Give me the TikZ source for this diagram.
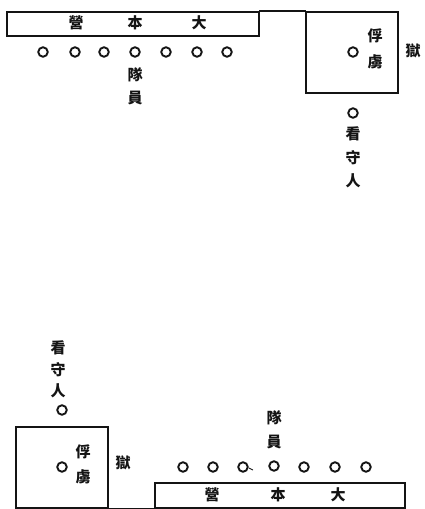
\documentclass[tikz,border=0pt]{standalone}
\usepackage{fontspec}
\usepackage{xcolor}
\usepackage{tikz}
\newfontfamily\cjk{Noto Sans CJK TC}
\definecolor{figline}{RGB}{20,20,20}
\tikzset{
  wall/.style ={draw=figline, line width=1.8pt, line cap=rect},
  man/.style  ={draw=figline, line width=1.9pt, circle, minimum size=9.5pt, inner sep=0pt},
  lab/.style  ={font=\cjk\bfseries\fontsize{15}{15}\selectfont, text=figline, inner sep=0pt},
}
\begin{document}
\begin{tikzpicture}[x=1pt,y=-1pt]
  \useasboundingbox (0,0) rectangle (425,509);
  % upper plan
  \node[wall,minimum width=252pt,minimum height=24pt,inner sep=0pt] (hqa) at (133,24) {};
  \node[wall,minimum width=92pt,minimum height=81pt,inner sep=0pt] (jaila) at (352,52.5) {};
  \draw[wall] (hqa.north east) -- (jaila.north west);
  \node[lab] (hqa1) at (76,23) {營};
  \node[lab] (hqa2) at (135,23) {本};
  \node[lab] (hqa3) at (199,23) {大};
  \node[man] (ma1) at (43,52) {};
  \node[man] (ma2) at (75,52) {};
  \node[man] (ma3) at (104,52) {};
  \node[man] (ma4) at (135,52) {};
  \node[man] (ma5) at (166,52) {};
  \node[man] (ma6) at (197,52) {};
  \node[man] (ma7) at (227,52) {};
  \node[lab] (tma1) at (135,75) {隊};
  \node[lab] (tma2) at (135,98) {員};
  \node[man] (pa) at (353,52) {};
  \node[lab] (tpa1) at (375,36) {俘};
  \node[lab] (tpa2) at (375,62) {虜};
  \node[lab] (tja) at (413,51) {獄};
  \node[man] (ga) at (353,113) {};
  \node[lab] (tga1) at (353,134) {看};
  \node[lab] (tga2) at (353,158) {守};
  \node[lab] (tga3) at (353,181) {人};
  % lower plan
  \node[wall,minimum width=92pt,minimum height=81pt,inner sep=0pt] (jailb) at (62,467.5) {};
  \node[wall,minimum width=250pt,minimum height=25pt,inner sep=0pt] (hqb) at (280,495.5) {};
  \draw[wall] (jailb.south east) -- (hqb.south west);
  \node[lab] (hqb1) at (212,495) {營};
  \node[lab] (hqb2) at (278,495) {本};
  \node[lab] (hqb3) at (338,495) {大};
  \node[man] (mb1) at (183,467) {};
  \node[man] (mb2) at (213,467) {};
  \node[man] (mb3) at (243,467) {};
  \node[man] (mb4) at (274,466) {};
  \node[man] (mb5) at (304,467) {};
  \node[man] (mb6) at (335,467) {};
  \node[man] (mb7) at (366,467) {};
  \draw[draw=figline,line width=0.9pt] (249,468) -- (253,470);
  \node[lab] (tmb1) at (274,418) {隊};
  \node[lab] (tmb2) at (274,442) {員};
  \node[man] (pb) at (62,467) {};
  \node[lab] (tpb1) at (83,452) {俘};
  \node[lab] (tpb2) at (83,477) {虜};
  \node[lab] (tjb) at (123,463) {獄};
  \node[man] (gb) at (62,410) {};
  \node[lab] (tgb1) at (58,348) {看};
  \node[lab] (tgb2) at (58,370) {守};
  \node[lab] (tgb3) at (58,391) {人};
\end{tikzpicture}
\end{document}
